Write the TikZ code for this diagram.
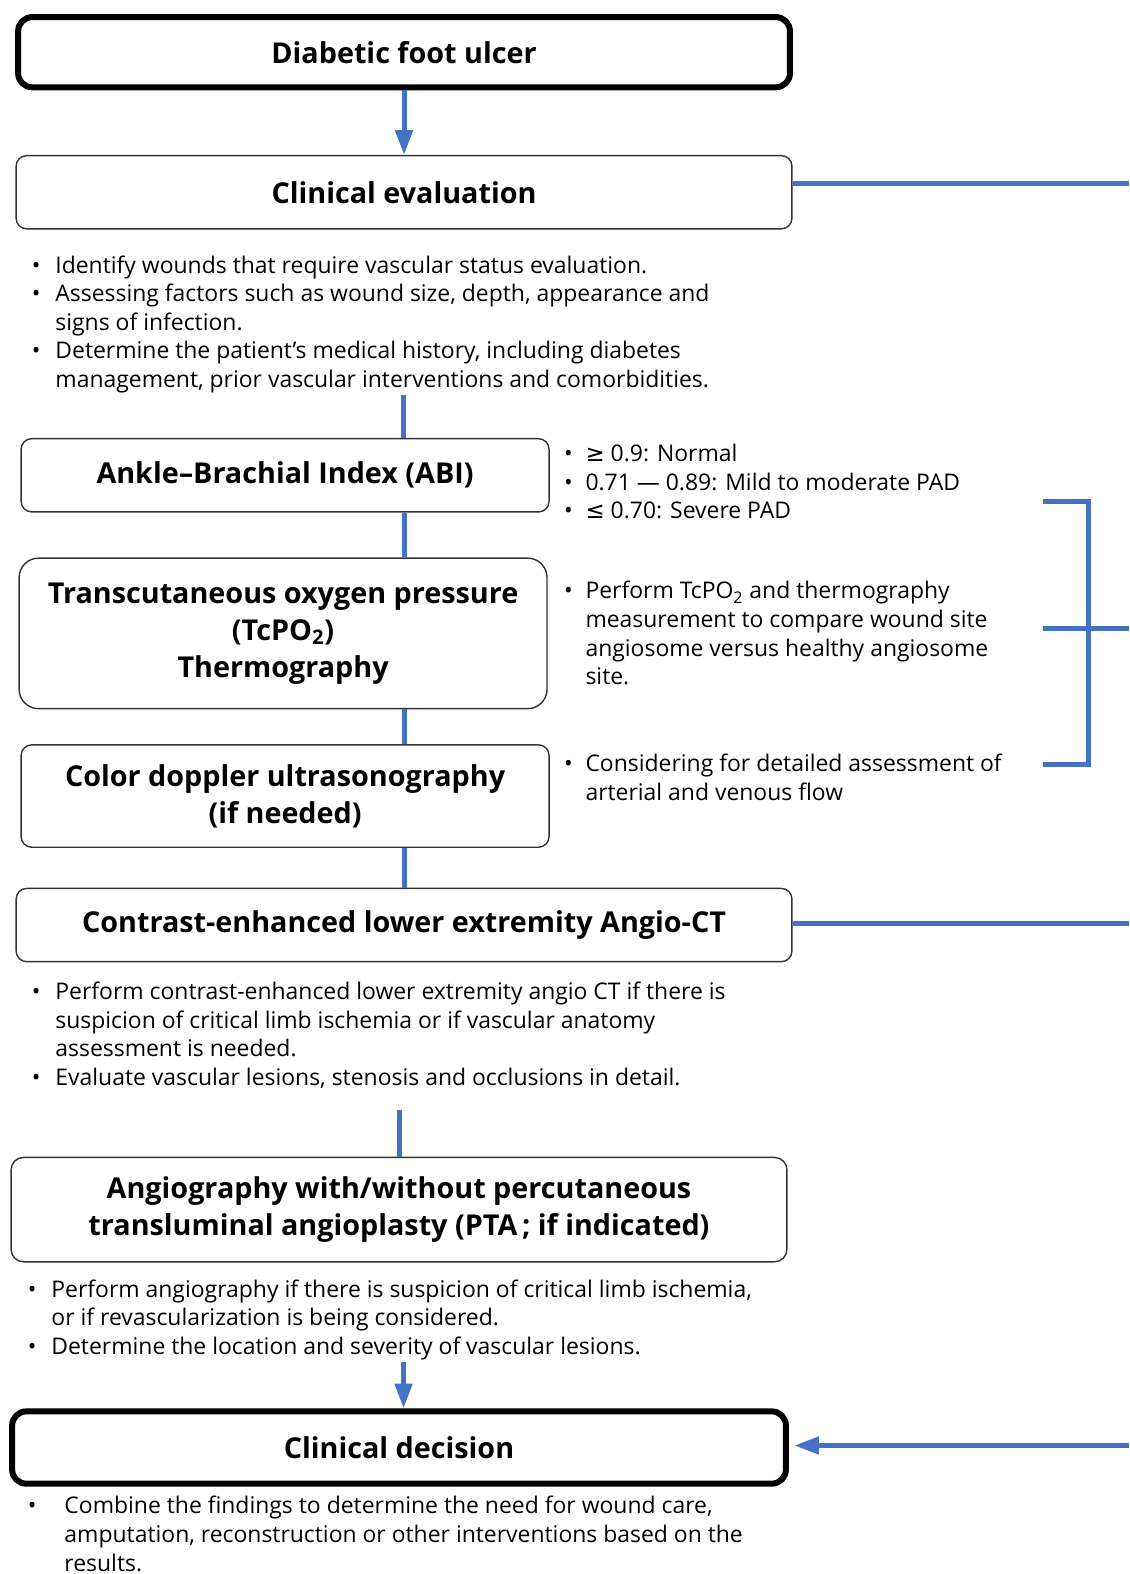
\documentclass[tikz,border=0pt]{standalone}
\usepackage{fontspec}
\setmainfont{Open Sans}
\newfontfamily\relfont{DejaVu Sans}
\usetikzlibrary{arrows.meta}
\definecolor{flowblue}{RGB}{68,114,196}
\newcommand{\bulitem}[1][13.3pt]{\makebox[#1][l]{\textbullet}}
\newcommand{\bulgap}[1][13.3pt]{\hspace*{#1}}
\begin{document}
\begin{tikzpicture}
  [x=0.02cm,y=-0.02cm,
   box/.style={draw=black!80,line width=0.8pt,rounded corners=6pt,fill=white,
     font=\fontsize{16.3}{21}\selectfont\bfseries,align=center,inner sep=0pt},
   heavybox/.style={box,draw=black,line width=3.4pt,rounded corners=8pt},
   note/.style={font=\fontsize{13}{16.2}\selectfont,align=left,anchor=base west,inner sep=0pt},
   link/.style={draw=flowblue,line width=2.8pt},
   flow/.style={link,-{Triangle[width=9.6pt,length=14pt]}}]

  \useasboundingbox (0,0) rectangle (1125,1568);

  % boxes of the main column
  \node (dfu)   [heavybox,minimum width=15.38cm,minimum height=1.4cm] at (402.5,52)  {Diabetic foot ulcer};
  \node (ce)    [box,minimum width=15.46cm,minimum height=1.46cm] at (402.5,191.5) {Clinical evaluation};
  \node (abi)   [box,minimum width=10.52cm,minimum height=1.46cm] at (284,473.5) {Ankle--Brachial Index (ABI)};
  \node (tcpo)  [box,rounded corners=11pt,minimum width=10.52cm,minimum height=3cm] at (282,631)
                {Transcutaneous oxygen pressure\\(TcPO\textsubscript{2})\\Thermography};
  \node (dop)   [box,minimum width=10.52cm,minimum height=2.04cm] at (284,793)
                {Color doppler ultrasonography\\(if needed)};
  \node (ct)    [box,minimum width=15.46cm,minimum height=1.46cm] at (402.5,921.5)
                {Contrast-enhanced lower extremity Angio-CT};
  \node (angio) [box,rounded corners=7pt,minimum width=15.46cm,minimum height=2.08cm] at (397.5,1205)
                {Angiography with/without percutaneous\\transluminal angioplasty (PTA\,;\ if indicated)};
  \node (dec)   [heavybox,minimum width=15.42cm,minimum height=1.44cm] at (397.5,1442) {Clinical decision};

  % bullet notes (placed at the baseline of their last line)
  \node (ceNotes) [note] at (31.5,386)
    {\bulitem Identify wounds that require vascular status evaluation.\\
     \bulitem Assessing factors such as wound size, depth, appearance and\\
     \bulgap signs of infection.\\
     \bulitem Determine the patient's medical history, including diabetes\\
     \bulgap management, prior vascular interventions and comorbidities.};
  \node (abiNotes) [note] at (561.5,517)
    {\bulitem[12.2pt]{\relfont ≥} 0.9: Normal\\
     \bulitem[12.2pt]0.71 — 0.89: Mild to moderate PAD\\
     \bulitem[12.2pt]{\relfont ≤} 0.70: Severe PAD};
  \node (tcpoNotes) [note] at (561.5,682)
    {\bulitem[12.2pt]Perform TcPO\textsubscript{2} and thermography\\
     \bulgap[12.2pt]measurement to compare wound site\\
     \bulgap[12.2pt]angiosome versus healthy angiosome\\
     \bulgap[12.2pt]site.};
  \node (dopNotes) [note] at (561.5,797)
    {\bulitem[12.2pt]Considering for detailed assessment of\\
     \bulgap[12.2pt]arterial and venous flow};
  \node (ctNotes) [note] at (31.5,1081)
    {\bulitem Perform contrast-enhanced lower extremity angio CT if there is\\
     \bulgap suspicion of critical limb ischemia or if vascular anatomy\\
     \bulgap assessment is needed.\\
     \bulitem Evaluate vascular lesions, stenosis and occlusions in detail.};
  \node (angioNotes) [note] at (27.5,1349)
    {\bulitem Perform angiography if there is suspicion of critical limb ischemia,\\
     \bulgap or if revascularization is being considered.\\
     \bulitem Determine the location and severity of vascular lesions.};
  \node (decNotes) [note] at (27.5,1565)
    {\bulitem[20.7pt]Combine the findings to determine the need for wound care,\\
     \bulgap[20.7pt]amputation, reconstruction or other interventions based on the\\
     \bulgap[20.7pt]results.};

  % spine of the flow
  \coordinate (ceEnd) at (402,393);
  \coordinate (ctEnd) at (398,1106);
  \coordinate (angioEnd) at (402,1357);
  \draw[flow] (dfu) -- (ce);
  \draw[link] (ceEnd) -- (ceEnd |- abi.north);
  \draw[link] (abi.south -| ce.south) -- (tcpo.north -| ce.south);
  \draw[link] (tcpo.south -| ce.south) -- (dop.north -| ce.south);
  \draw[link] (dop.south -| ce.south) -- (ct.north -| ce.south);
  \draw[link] (ctEnd) -- (ctEnd |- angio.north);
  \draw[flow] (angioEnd) -- (angioEnd |- dec.north);

  % lines on the right side
  \coordinate (ceOut) at (1125,183);
  \coordinate (ctOut) at (1125,920);
  \coordinate (decIn) at (1125,1440);
  \draw[link] (ce.east |- ceOut) -- (ceOut);
  \draw[link] (ct.east |- ctOut) -- (ctOut);
  \draw[flow,shorten >=3pt] (decIn) -- (dec.east |- decIn);

  % bracket
  \coordinate (brTop) at (1039,500);
  \coordinate (brMid) at (1039,626);
  \coordinate (brBot) at (1039,762);
  \draw[link] (brTop) -- (1084,500) -- (1084,762) -- (brBot);
  \draw[link] (brMid) -- (1125,626);
\end{tikzpicture}
\end{document}
